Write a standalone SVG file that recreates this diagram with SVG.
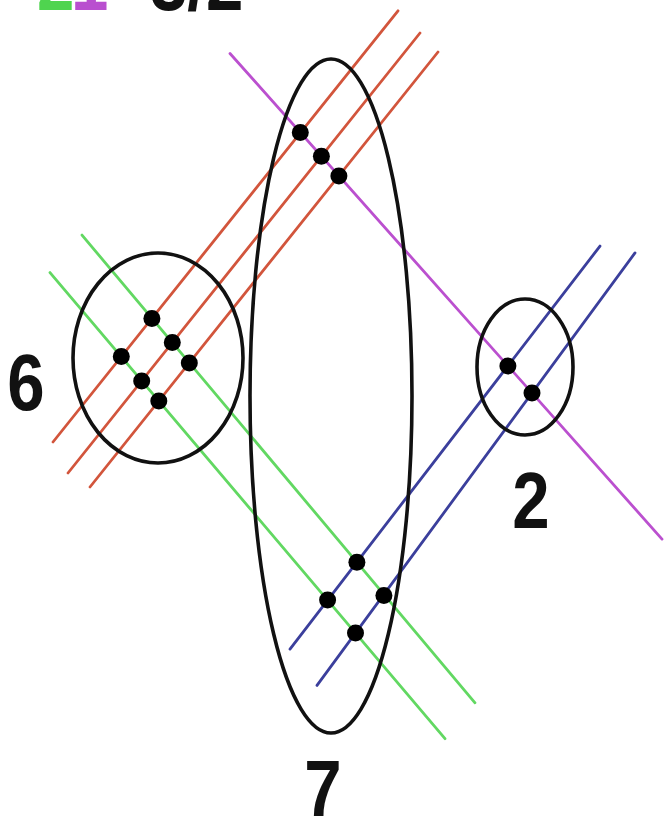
<svg xmlns="http://www.w3.org/2000/svg" width="665" height="818" viewBox="0 0 665 818">
<style>
.red{stroke:#d2553c;stroke-width:2.8;fill:none;stroke-linecap:round}
.green{stroke:#62d862;stroke-width:2.8;fill:none;stroke-linecap:round}
.purple{stroke:#bb50cf;stroke-width:2.8;fill:none;stroke-linecap:round}
.blue{stroke:#3b3f9c;stroke-width:2.8;fill:none;stroke-linecap:round}
.ring{stroke:#111;stroke-width:3.6;fill:none}
.dot{fill:#000}
.lbl{font-family:"Liberation Sans",Arial,sans-serif;font-weight:bold;font-size:80px;fill:#111;text-anchor:middle}
.top{font-family:"Liberation Sans",Arial,sans-serif;font-weight:bold;font-size:80px}
</style>
<rect width="665" height="818" fill="#ffffff"/>
<g id="title">
<text class="top" transform="translate(37,10) scale(0.84,1)" fill="#4fd44f">2</text>
<text class="top" transform="translate(71,10) scale(0.84,1)" fill="#b94fcf">1</text>
<text class="top" transform="translate(150,10) scale(0.84,1)" fill="#111">3/2</text>
</g>
<g id="connectors">
<line class="red" x1="53" y1="442" x2="398" y2="10.8"/>
<line class="red" x1="68" y1="473" x2="420" y2="33"/>
<line class="red" x1="90" y1="487" x2="438" y2="52"/>
<line class="green" x1="82" y1="235.1" x2="475" y2="702.8"/>
<line class="green" x1="50" y1="272.6" x2="445" y2="738.7"/>
<line class="purple" x1="230" y1="53.5" x2="662" y2="539.1"/>
<line class="blue" x1="290" y1="649.1" x2="600" y2="246.1"/>
<line class="blue" x1="317" y1="685.4" x2="635" y2="252.9"/>
</g>
<g id="node-6">
<ellipse class="ring" cx="158" cy="358" rx="85" ry="105"/>
<text class="lbl" transform="translate(26,410) scale(0.84,1)">6</text>
</g>
<g id="node-7">
<ellipse class="ring" cx="331" cy="396" rx="81" ry="337"/>
<text class="lbl" transform="translate(323,816) scale(0.84,1)">7</text>
</g>
<g id="node-2">
<ellipse class="ring" cx="525" cy="367" rx="48" ry="68"/>
<text class="lbl" transform="translate(531,528) scale(0.84,1)">2</text>
</g>
<g id="points">
<circle class="dot" cx="151.9" cy="318.4" r="8.5"/>
<circle class="dot" cx="172.3" cy="342.6" r="8.5"/>
<circle class="dot" cx="189.3" cy="362.9" r="8.5"/>
<circle class="dot" cx="121.3" cy="356.6" r="8.5"/>
<circle class="dot" cx="141.7" cy="380.9" r="8.5"/>
<circle class="dot" cx="158.8" cy="401.1" r="8.5"/>
<circle class="dot" cx="300.3" cy="132.6" r="8.5"/>
<circle class="dot" cx="321.4" cy="156.3" r="8.5"/>
<circle class="dot" cx="338.9" cy="175.9" r="8.5"/>
<circle class="dot" cx="507.9" cy="365.9" r="8.5"/>
<circle class="dot" cx="532" cy="393" r="8.5"/>
<circle class="dot" cx="356.9" cy="562.2" r="8.5"/>
<circle class="dot" cx="327.6" cy="600" r="8.5"/>
<circle class="dot" cx="383.9" cy="595.4" r="8.5"/>
<circle class="dot" cx="355.5" cy="633" r="8.5"/>
</g>
</svg>
